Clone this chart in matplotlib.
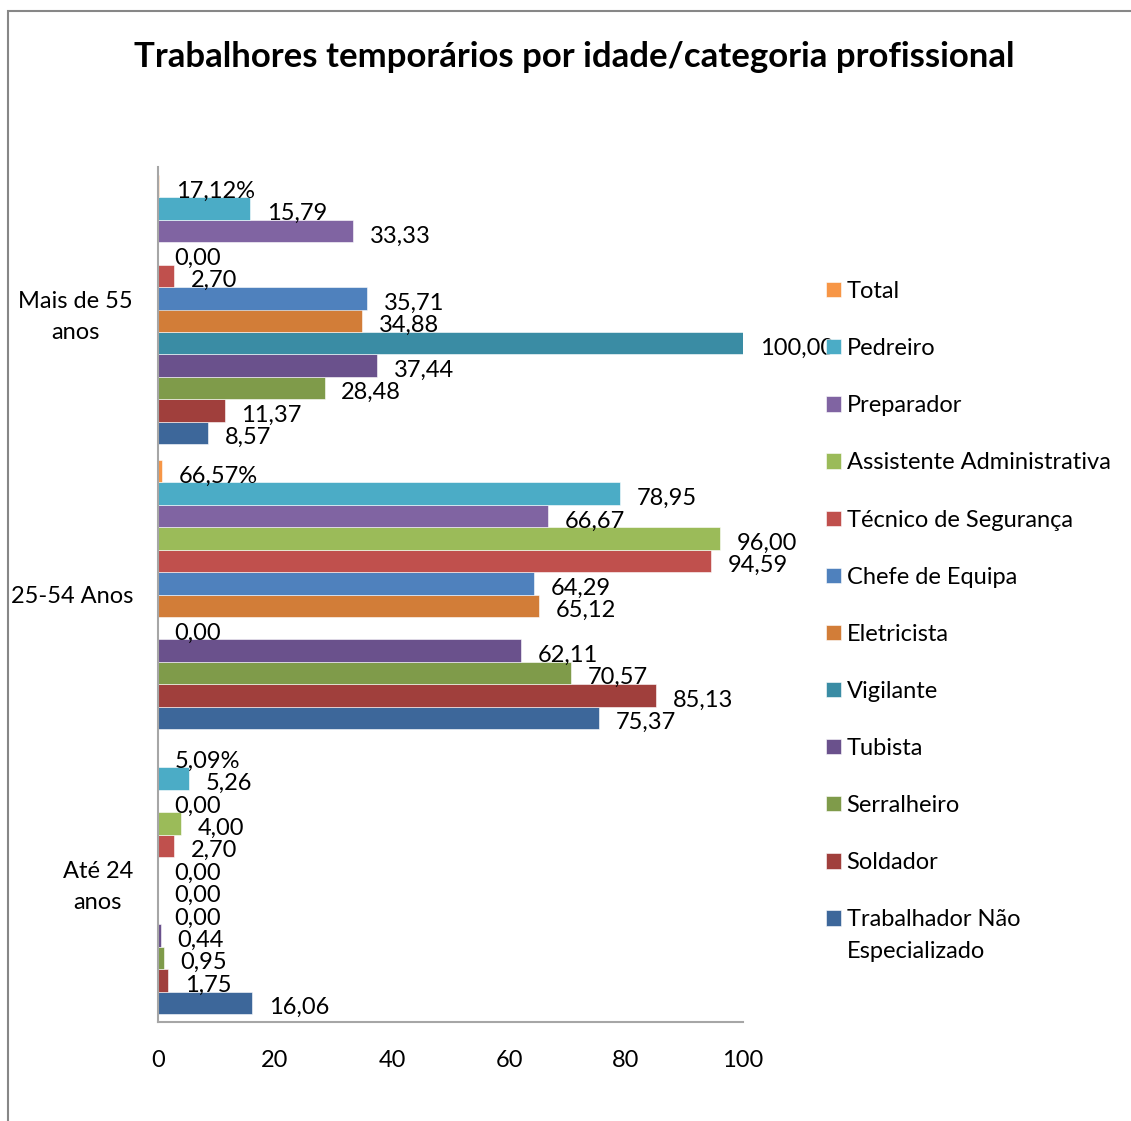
import matplotlib
matplotlib.use("Agg")
import matplotlib.pyplot as plt
from matplotlib.patches import Rectangle
import numpy as np

plt.rcParams['font.family'] = ['Lato', 'DejaVu Sans']

# categories (bottom to top)
categories = ["Até 24\nanos", "25-54 Anos", "Mais de 55\nanos"]

# series in drawing order (bottom bar of each group first)
series = ["Trabalhador Não", "Soldador", "Serralheiro", "Tubista",
          "Vigilante", "Eletricista", "Chefe de Equipa", "Técnico de Segurança",
          "Assistente Administrativa", "Preparador", "Pedreiro", "Total"]
colors = ["#3D679A", "#A03F3C", "#7F9B4A", "#6A518C", "#3A8CA4", "#D27D38",
          "#4F81BD", "#C0504D", "#9BBB59", "#8064A2", "#4BACC6", "#F79646"]

# values per category, same order as series (Total is a fraction)
ate_24 = [16.06, 1.75, 0.95, 0.44, 0.00, 0.00, 0.00, 2.70, 4.00, 0.00, 5.26, 0.0509]
de_25_54 = [75.37, 85.13, 70.57, 62.11, 0.00, 65.12, 64.29, 94.59, 96.00, 66.67, 78.95, 0.6657]
mais_55 = [8.57, 11.37, 28.48, 37.44, 100.00, 34.88, 35.71, 2.70, 0.00, 33.33, 15.79, 0.1712]

values = np.array([ate_24, de_25_54, mais_55])

fs = 17

fig = plt.figure(figsize=(11.31, 11.21), dpi=100)
ax = fig.add_axes([158 / 1131, 1 - 1022 / 1121, 585 / 1131, 855 / 1121])

n = len(series)
h = 0.0786
y = np.arange(len(categories))
for i, name in enumerate(series):
    pos = y + (i - (n - 1) / 2) * h
    vals = values[:, i]
    ax.barh(pos, vals, height=h, color=colors[i], edgecolor="white", linewidth=0.4, label=name)
    for p, v in zip(pos, vals):
        if name == "Total":
            txt = f"{v * 100:.2f}%".replace(".", ",")
        else:
            txt = f"{v:.2f}".replace(".", ",")
        ax.annotate(txt, (v, p), xytext=(12, -3.5), textcoords="offset points",
                    ha="left", va="center", fontsize=fs, color="black")

ax.set_xlim(0, 100)
ax.set_ylim(-0.5, 2.5)
ax.set_xticks([0, 20, 40, 60, 80, 100])
ax.set_yticks(y)
ax.set_yticklabels(categories, multialignment="center", linespacing=1.6)
ax.tick_params(axis="both", length=0, labelsize=fs)
ax.tick_params(axis="x", pad=20)
ax.tick_params(axis="y", pad=18)
for s in ["top", "right"]:
    ax.spines[s].set_visible(False)
for s in ["left", "bottom"]:
    ax.spines[s].set_color("#A6A6A6")
    ax.spines[s].set_linewidth(1.5)

fig.text(0.508, 1 - 57 / 1121, "Trabalhores temporários por idade/categoria profissional",
         ha="center", va="center", fontsize=25, fontweight="bold")

handles, labels = ax.get_legend_handles_labels()
leg = fig.legend(handles[::-1], labels[::-1], loc="upper left",
                 bbox_to_anchor=(826 / 1131, 1 - 281 / 1121), frameon=False,
                 fontsize=fs, handlelength=0.62, handleheight=0.62, handletextpad=0.25,
                 labelspacing=1.53, borderpad=0, borderaxespad=0)

# second line of the last legend entry, placed under the first one
fig.canvas.draw()
bb = leg.get_texts()[-1].get_window_extent().transformed(fig.transFigure.inverted())
fig.text(bb.x0, bb.y0 - 28 / 1121, "Especializado", ha="left", va="baseline", fontsize=fs)

# chart area border
fig.patches.append(Rectangle((8 / 1131, -0.1), 1.2, 1.1 - 11 / 1121, transform=fig.transFigure,
                             fill=False, edgecolor="#878787", linewidth=1.5))

fig.savefig("out.png", dpi=100)
